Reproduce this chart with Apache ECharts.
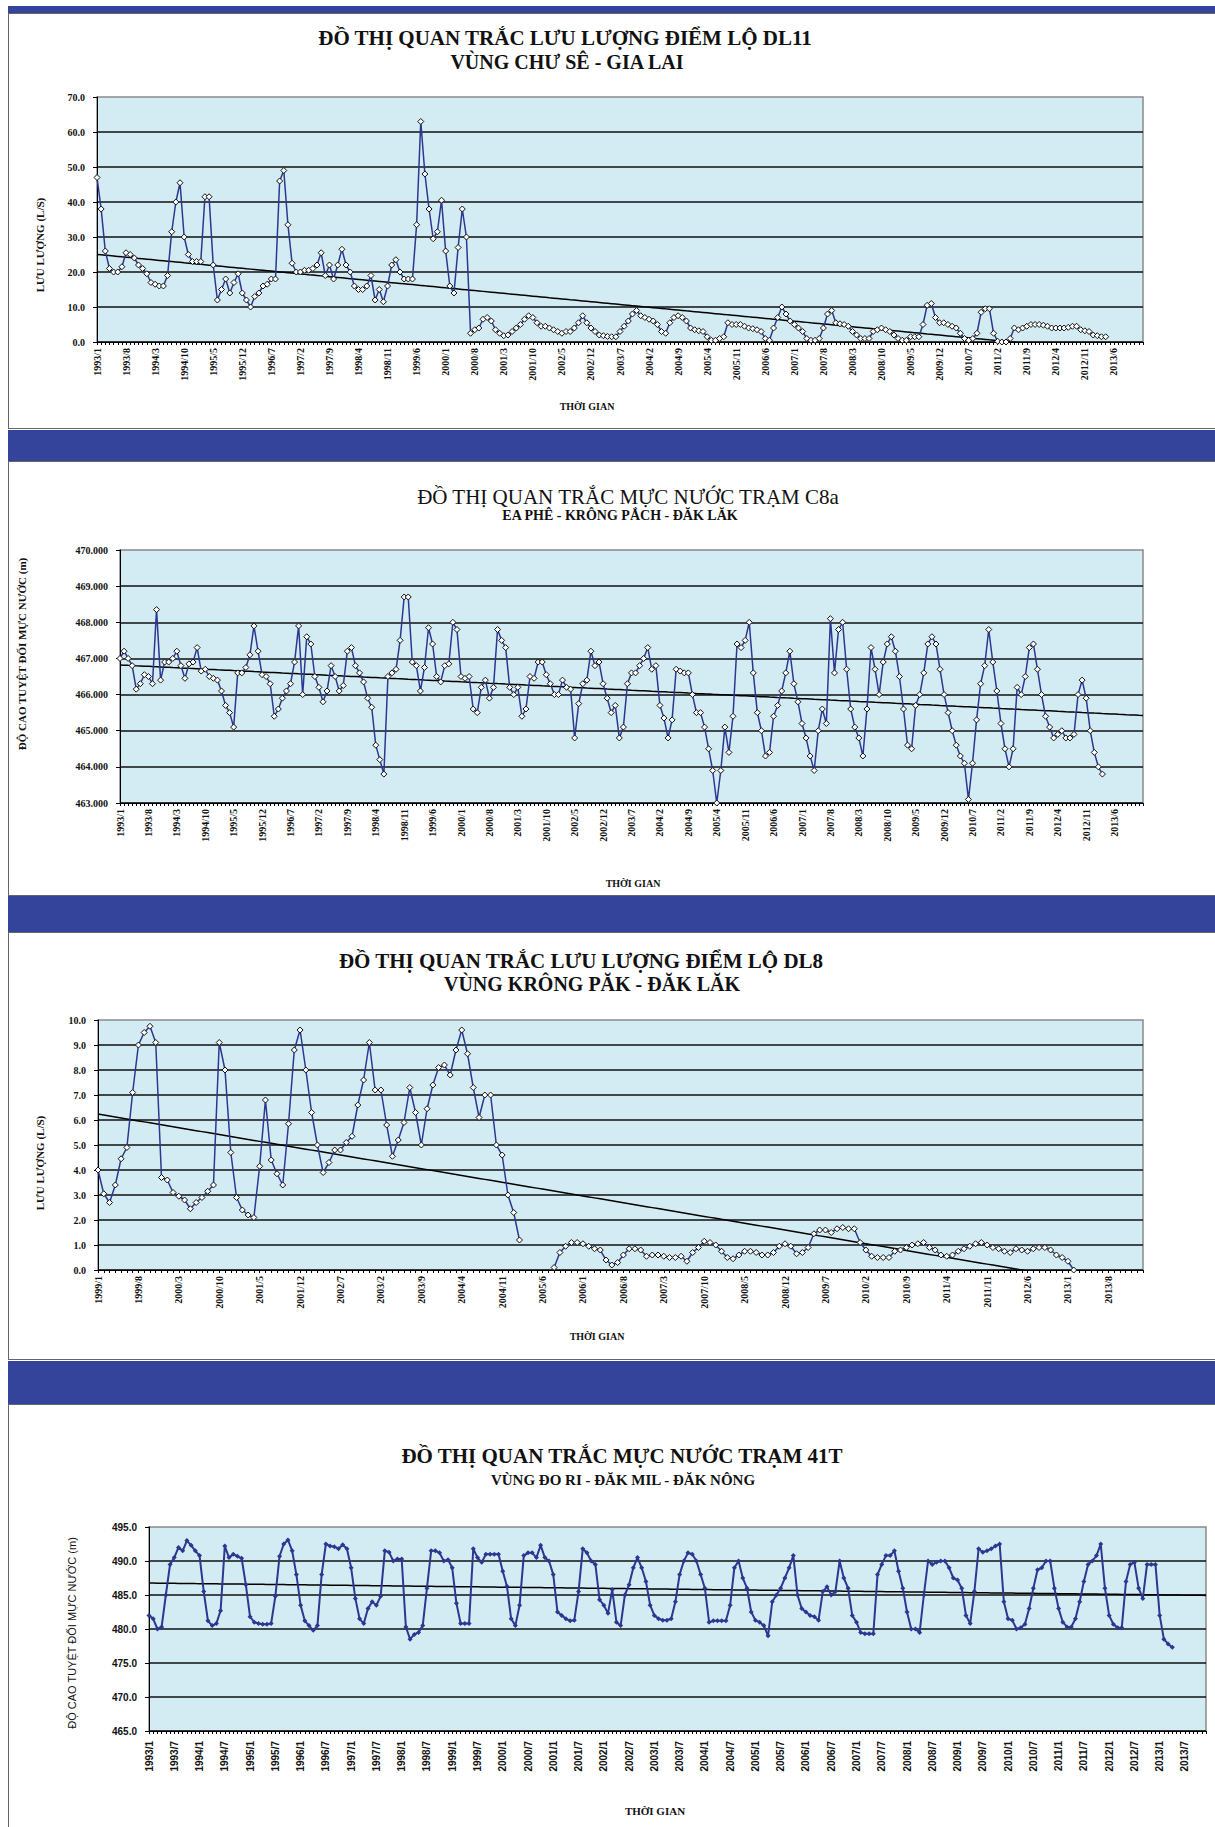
<!DOCTYPE html>
<html>
<head>
<meta charset="utf-8">
<title>Đồ thị quan trắc</title>
<script src="https://cdn.jsdelivr.net/npm/echarts/dist/echarts.min.js"></script>
<style>
  html, body { margin: 0; padding: 0; background: #fff; overflow: hidden; }
  #page { position: relative; width: 1215px; height: 1827px; }
  .band { position: absolute; left: 8px; right: 0; background: #33449a; }
  .panel { position: absolute; left: 8px; width: 1215px; box-sizing: border-box; border: 1.5px solid #666; background: #fff; }
  #chart { position: absolute; left: 0; top: 0; width: 1215px; height: 1827px; z-index: 2; }
</style>
</head>
<body>
<div id="page">
  <div class="band" style="top:6px;height:7px"></div>
  <div class="panel" style="top:13px;height:416px"></div>
  <div class="band" style="top:430px;height:31px"></div>
  <div class="panel" style="top:461px;height:435px"></div>
  <div class="band" style="top:896px;height:36px"></div>
  <div class="panel" style="top:932px;height:428px"></div>
  <div class="band" style="top:1361px;height:43px"></div>
  <div class="panel" style="top:1404px;height:430px"></div>
  <div id="chart"></div>
</div>
<script>
// lưu lượng điểm lộ DL11 (l/s), tháng từ 1993/1
const flowDL11 = [
  47, 38, 26, 21, 20, 20, 21.5, 25.5, 25, 24,
  22, 21, 19.5, 17, 16.5, 16, 16, 19, 31.5, 40,
  45.5, 30, 25, 23, 23, 23, 41.5, 41.5, 22, 12,
  15, 18, 14, 17, 19.5, 14, 12, 10, 13, 14,
  16, 16.5, 18, 18, 46, 49, 33.5, 22.5, 20, 20,
  20.5, 20.5, 21, 22, 25.5, 19, 22, 18, 22, 26.5,
  22, 20, 16, 15, 15, 16, 19, 12, 15, 11.5,
  16, 22, 23.5, 20, 18, 18, 18, 33.5, 63, 48,
  38, 29.5, 31.5, 40.5, 26, 16, 14, 27, 38, 30,
  2.5, 3.5, 4, 6.5, 7, 6, 3.5, 2.5, 1.8, 2,
  3, 4, 5, 6.5, 7.5, 7, 5.5, 4.5, 4.5, 4,
  3.5, 3, 2.5, 3, 3, 4, 5.5, 7.5, 5.5, 4,
  3, 2, 1.8, 1.6, 1.5, 1.5, 3, 4.5, 6, 8,
  9, 7.5, 7, 6.5, 6, 5, 3, 2.5, 5.5, 7,
  7.5, 7, 6, 4, 3.5, 3.2, 3, 1.5, 0.5, 0.5,
  1, 1.5, 5.5, 5, 5, 5, 4.5, 4, 3.8, 3.5,
  3, 1, 0.5, 4, 7, 10, 8, 6, 5, 4,
  3, 1, 0.5, 0.5, 1, 4, 8, 9, 5.5, 5.2,
  5, 4.5, 3, 2, 1, 1, 1, 3, 3.5, 4,
  3.5, 3, 2, 1, 0.5, 0.5, 1.5, 1.5, 1.5, 5,
  10.5, 11, 7, 5.5, 5.5, 5, 4.5, 4, 2.5, 1,
  0.5, 1, 2.5, 8.5, 9.5, 9.5, 2.5, 0.2, 0, 0,
  1, 4, 3.5, 4, 4.5, 5, 5, 5, 4.8, 4.5,
  4, 4, 4, 4, 4.2, 4.5, 4.5, 3.5, 3.2, 3,
  2, 1.8, 1.5, 1.5
];

// mực nước trạm C8a (m), tháng từ 1993/1
const levelC8a = [
  467.0, 467.2, 467.0, 466.8, 466.15, 466.3, 466.55, 466.5, 466.3, 468.35,
  466.4, 466.9, 466.9, 467.0, 467.2, 466.8, 466.45, 466.85, 466.9, 467.3,
  466.65, 466.7, 466.5, 466.45, 466.4, 466.1, 465.7, 465.5, 465.1, 466.6,
  466.6, 466.75, 467.1, 467.9, 467.2, 466.55, 466.5, 466.3, 465.4, 465.6,
  465.9, 466.1, 466.3, 466.9, 467.9, 466.0, 467.6, 467.4, 466.5, 466.2,
  465.8, 466.1, 466.8, 466.5, 466.1, 466.25, 467.2, 467.3, 466.8, 466.6,
  466.35, 465.9, 465.65, 464.6, 464.2, 463.8, 466.5, 466.6, 466.7, 467.5,
  468.7, 468.7, 466.9, 466.8, 466.1, 466.75, 467.85, 467.4, 466.5, 466.35,
  466.8, 466.85, 468.0, 467.8, 466.5, 466.45, 466.5, 465.6, 465.5, 466.2,
  466.4, 465.9, 466.2, 467.8, 467.5, 467.3, 466.2, 466.0, 466.2, 465.4,
  465.6, 466.5, 466.45, 466.9, 466.9, 466.55, 466.3, 466.0, 466.0, 466.4,
  466.2, 466.15, 464.8, 465.75, 466.3, 466.4, 467.2, 466.8, 466.9, 466.3,
  465.9, 465.5, 465.7, 464.8, 465.1, 466.3, 466.6, 466.6, 466.8, 467.0,
  467.3, 466.7, 466.8, 465.7, 465.35, 464.8, 465.3, 466.7, 466.65, 466.6,
  466.6, 466.0, 465.5, 465.5, 465.1, 464.5, 463.9, 463.0, 463.9, 465.1,
  464.4, 465.4, 467.4, 467.3, 467.5, 468.0, 466.6, 465.5, 465.0, 464.3,
  464.4, 465.4, 465.7, 466.1, 466.6, 467.2, 466.3, 465.8, 465.2, 464.8,
  464.3, 463.9, 465.0, 465.6, 465.2, 468.1, 466.6, 467.8, 468.0, 466.7,
  465.6, 465.1, 464.8, 464.3, 465.6, 467.3, 466.7, 466.0, 466.9, 467.4,
  467.6, 467.2, 466.5, 465.6, 464.6, 464.5, 465.7, 466.0, 466.6, 467.4,
  467.6, 467.4, 466.7, 466.0, 465.5, 465.0, 464.6, 464.3, 464.1, 463.1,
  464.1, 465.3, 466.3, 466.8, 467.8, 466.9, 466.1, 465.2, 464.5, 464.0,
  464.5, 466.2, 466.0, 466.5, 467.3, 467.4, 466.7, 466.0, 465.4, 465.1,
  464.8, 464.9, 465.0, 464.8, 464.8, 464.9, 466.0, 466.4, 465.9, 465.0,
  464.4, 464.0, 463.8
];

// lưu lượng điểm lộ DL8 (l/s), tháng từ 1999/1
const flowDL8 = [
  4.0, 3.05, 2.7, 3.4, 4.45, 4.9, 7.1, 9.0, 9.5, 9.75,
  9.1, 3.7, 3.6, 3.1, 2.95, 2.8, 2.45, 2.7, 2.9, 3.15,
  3.4, 9.1, 8.0, 4.7, 2.9, 2.4, 2.2, 2.1, 4.15, 6.8,
  4.4, 3.85, 3.4, 5.85, 8.8, 9.6, 8.0, 6.3, 5.0, 3.9,
  4.3, 4.8, 4.8, 5.1, 5.35, 6.6, 7.6, 9.1, 7.2, 7.2,
  5.8, 4.55, 5.2, 5.9, 7.3, 6.3, 5.0, 6.45, 7.4, 8.1,
  8.2, 7.8, 8.8, 9.6, 8.65, 7.3, 6.1, 7.0, 7.0, 5.0,
  4.6, 3.0, 2.3, 1.2, null, null, null, null, null, 0.1,
  0.7, 0.95, 1.1, 1.1, 1.05, 0.95, 0.85, 0.8, 0.4, 0.2,
  0.3, 0.6, 0.85, 0.85, 0.8, 0.55, 0.6, 0.6, 0.55, 0.5,
  0.5, 0.55, 0.35, 0.7, 0.9, 1.15, 1.1, 1.0, 0.75, 0.5,
  0.45, 0.6, 0.75, 0.75, 0.7, 0.6, 0.6, 0.7, 0.95, 1.05,
  0.95, 0.65, 0.7, 0.9, 1.45, 1.6, 1.6, 1.5, 1.65, 1.7,
  1.65, 1.65, 1.1, 0.8, 0.55, 0.5, 0.5, 0.5, 0.75, 0.8,
  0.9, 1.0, 1.05, 1.1, 0.9, 0.8, 0.6, 0.55, 0.6, 0.75,
  0.85, 0.95, 1.05, 1.1, 1.0, 0.9, 0.85, 0.75, 0.7, 0.85,
  0.8, 0.75, 0.85, 0.9, 0.9, 0.8, 0.6, 0.5, 0.35, 0.0
];

// mực nước trạm 41T (m), tháng từ 1993/1
const level41T = [
  482, 481.5, 480, 480.3, 485, 489.5, 490.5, 492, 491.5, 493,
  492.3, 491.5, 490.8, 485.5, 481.2, 480.5, 480.8, 482.7, 492.2, 490.5,
  491, 490.7, 490.4, 486.5, 481.8, 481, 480.8, 480.7, 480.7, 480.8,
  484.8, 490.7, 492.5, 493.1, 491.5, 488, 483.5, 481.2, 480.5, 479.8,
  480.5, 488, 492.5, 492.2, 492.1, 491.8, 492.4, 491.8, 489, 484.5,
  481.5, 480.8, 483, 484, 483.5, 484.8, 491.5, 491.3, 490, 490.3,
  490.3, 480.3, 478.5, 479.2, 479.5, 480.5, 486, 491.5, 491.5, 491.2,
  490, 490.2, 489, 483.8, 480.8, 480.8, 480.8, 491.8, 490.5, 489.8,
  491, 491, 491, 491, 488.5, 486.3, 481.5, 480.5, 483.5, 490.8,
  491.2, 491.2, 490.5, 492.3, 490.5, 490, 488, 482.5, 482, 481.5,
  481.2, 481.3, 485.5, 491.8, 491.2, 490, 489.5, 484.3, 483.5, 482.3,
  485.8, 481, 480.5, 485, 486.5, 489, 490.5, 489, 487, 483.5,
  482, 481.5, 481.3, 481.3, 481.5, 484, 488, 490, 491.2, 491,
  490, 488, 486, 481, 481.2, 481.2, 481.2, 481.2, 483.5, 489,
  490, 487.5, 486, 482.5, 481.3, 481, 480.5, 479, 484, 485,
  486, 487.5, 489, 490.8, 485, 483, 482.5, 482, 481.8, 481.3,
  485.5, 486.2, 485, 485.5, 490, 487.5, 486, 482, 481, 479.5,
  479.3, 479.3, 479.3, 488, 489.5, 490.8, 490.8, 491.5, 488.5, 486,
  482.5, 480, 480, 479.5, 485, 490, 489.5, 489.8, 490, 490,
  489, 487.5, 487.2, 486, 482, 480.8, 485.5, 491.8, 491.3, 491.5,
  491.8, 492.2, 492.5, 484, 481.5, 481.3, 480, 480.2, 480.7, 483,
  486, 488.7, 489, 490, 490, 486, 483, 481, 480.3, 480.3,
  481.5, 484, 487, 489.5, 490, 490.8, 492.5, 486, 482, 480.7,
  480.2, 480.2, 487, 489.5, 489.8, 486, 484.5, 489.5, 489.5, 489.5,
  482, 478.5, 477.8, 477.3
];

// trục thời gian: tháng đầu, số tháng và bước nhãn của mỗi đồ thị
const axisDL11 = { start: [1993, 1], count: 253, step: 7 };
const axisC8a = { start: [1993, 1], count: 253, step: 7 };
const axisDL8 = { start: [1999, 1], count: 182, step: 7 };
const axis41T = { start: [1993, 1], count: 252, step: 6 };

const NAVY = '#2b3790';
const SERIF = '"Liberation Serif", "DejaVu Serif", serif';
const SANS = '"Liberation Sans", Arial, sans-serif';

function monthList({ start, count }) {
  const out = [];
  for (let i = 0; i < count; i++) {
    const t = start[1] - 1 + i;
    out.push((start[0] + Math.floor(t / 12)) + '/' + (t % 12 + 1));
  }
  return out;
}

// đường xu thế tuyến tính (như trendline của Excel)
function linearTrend(values, n) {
  let sx = 0, sy = 0, sxx = 0, sxy = 0, c = 0;
  values.forEach((v, i) => {
    if (v == null) return;
    sx += i; sy += v; sxx += i * i; sxy += i * v; c++;
  });
  const b = (c * sxy - sx * sy) / (c * sxx - sx * sx);
  const a = (sy - b * sx) / c;
  const out = [];
  for (let i = 0; i < n; i++) out.push(+(a + b * i).toFixed(3));
  return out;
}

function xAxisFor(idx, axisDef, font, margin) {
  const { step, count } = axisDef;
  return {
    type: 'category', gridIndex: idx, data: monthList(axisDef), boundaryGap: false,
    axisLine: { lineStyle: { color: '#000', width: 1 } },
    axisTick: { interval: 0, length: 3, lineStyle: { color: '#000' } },
    axisLabel: {
      // nhãn cách đều theo bước, không vẽ nhãn ở mép phải trục
      interval: i => i % step === 0 && i + step <= count,
      rotate: 90, margin: margin,
      fontSize: 10, fontWeight: 'bold', fontFamily: font, color: '#111'
    },
    splitLine: { show: false }
  };
}

function yAxisFor(idx, min, max, interval, digits, font) {
  const n = Math.round((max - min) / interval) + 1;
  const colors = [];
  for (let i = 0; i < n; i++) colors.push(i === n - 1 ? 'rgba(0,0,0,0)' : '#111');
  return {
    type: 'value', gridIndex: idx, min, max, interval,
    axisLine: { show: true, lineStyle: { color: '#000' } },
    axisTick: { show: true, length: 4, lineStyle: { color: '#000' } },
    axisLabel: {
      formatter: v => v.toFixed(digits), margin: 12,
      fontSize: 10, fontWeight: 'bold', fontFamily: font, color: '#111'
    },
    splitLine: { lineStyle: { color: colors, width: 1.5 } }
  };
}

function dataSeries(idx, data, filled) {
  return {
    type: 'line', xAxisIndex: idx, yAxisIndex: idx, data,
    symbol: 'diamond', symbolSize: filled ? 5 : 6, showAllSymbol: true,
    connectNulls: false, z: 3,
    lineStyle: { color: NAVY, width: filled ? 2 : 1.5 },
    itemStyle: filled ? { color: NAVY } : { color: '#fff', borderColor: '#111', borderWidth: 1 }
  };
}

function trendSeries(idx, data, n) {
  return {
    type: 'line', xAxisIndex: idx, yAxisIndex: idx, data: linearTrend(data, n),
    symbol: 'none', z: 2, silent: true,
    lineStyle: { color: '#000', width: 1.5 }
  };
}

function label(text, x, y, font, vertical) {
  return {
    type: 'text', x, y, rotation: vertical ? Math.PI / 2 : 0,
    style: { text, font, fill: '#111', align: 'center', verticalAlign: 'middle' }
  };
}

const chart = echarts.init(document.getElementById('chart'), null, { renderer: 'svg' });

chart.setOption({
  animation: false,
  backgroundColor: 'transparent',
  grid: [
    { left: 97, top: 97, width: 1046, height: 245 },
    { left: 120, top: 550, width: 1023, height: 253 },
    { left: 98, top: 1020, width: 1045, height: 250 },
    { left: 149, top: 1527, width: 1057, height: 204 }
  ].map(g => Object.assign(g, { show: true, backgroundColor: '#d3ebf2', borderColor: '#8a8a8a', borderWidth: 1.5 })),
  xAxis: [
    xAxisFor(0, axisDL11, SERIF, 6),
    xAxisFor(1, axisC8a, SERIF, 6),
    xAxisFor(2, axisDL8, SERIF, 6),
    xAxisFor(3, axis41T, SANS, 10)
  ],
  yAxis: [
    yAxisFor(0, 0, 70, 10, 1, SERIF),
    yAxisFor(1, 463, 470, 1, 3, SERIF),
    yAxisFor(2, 0, 10, 1, 1, SERIF),
    yAxisFor(3, 465, 495, 5, 1, SANS)
  ],
  series: [
    trendSeries(0, flowDL11, axisDL11.count),
    dataSeries(0, flowDL11, false),
    trendSeries(1, levelC8a, axisC8a.count),
    dataSeries(1, levelC8a, false),
    trendSeries(2, flowDL8, axisDL8.count),
    dataSeries(2, flowDL8, false),
    trendSeries(3, level41T, axis41T.count),
    dataSeries(3, level41T, true)
  ],
  graphic: [
    label('ĐỒ THỊ QUAN TRẮC LƯU LƯỢNG ĐIỂM LỘ DL11', 565, 38, 'bold 21px ' + SERIF),
    label('VÙNG CHƯ SÊ - GIA LAI', 567, 62, 'bold 20px ' + SERIF),
    label('LƯU LƯỢNG (L/S)', 40, 245, 'bold 11px ' + SERIF, true),
    label('THỜI GIAN', 587, 406, 'bold 10px ' + SERIF),

    label('ĐỒ THỊ QUAN TRẮC MỰC NƯỚC TRẠM C8a', 628, 497, '21px ' + SERIF),
    label('EA PHÊ - KRÔNG PẮCH - ĐĂK LĂK', 620, 515, 'bold 14px ' + SERIF),
    label('ĐỘ CAO TUYỆT ĐỐI MỰC NƯỚC (m)', 22, 654, 'bold 11px ' + SERIF, true),
    label('THỜI GIAN', 633, 883, 'bold 10px ' + SERIF),

    label('ĐỒ THỊ QUAN TRẮC LƯU LƯỢNG ĐIỂM LỘ DL8', 581, 961, 'bold 21px ' + SERIF),
    label('VÙNG KRÔNG PĂK - ĐĂK LĂK', 592, 984, 'bold 20px ' + SERIF),
    label('LƯU LƯỢNG (L/S)', 40, 1163, 'bold 11px ' + SERIF, true),
    label('THỜI GIAN', 597, 1336, 'bold 10px ' + SERIF),

    label('ĐỒ THỊ QUAN TRẮC MỰC NƯỚC TRẠM 41T', 622, 1456, 'bold 21px ' + SERIF),
    label('VÙNG ĐO RI - ĐĂK MIL - ĐĂK NÔNG', 623, 1480, 'bold 15px ' + SERIF),
    label('ĐỘ CAO TUYỆT ĐỐI MỰC NƯỚC (m)', 72, 1633, '11px ' + SANS, true),
    label('THỜI GIAN', 655, 1811, 'bold 11px ' + SERIF)
  ]
});
</script>
</body>
</html>
